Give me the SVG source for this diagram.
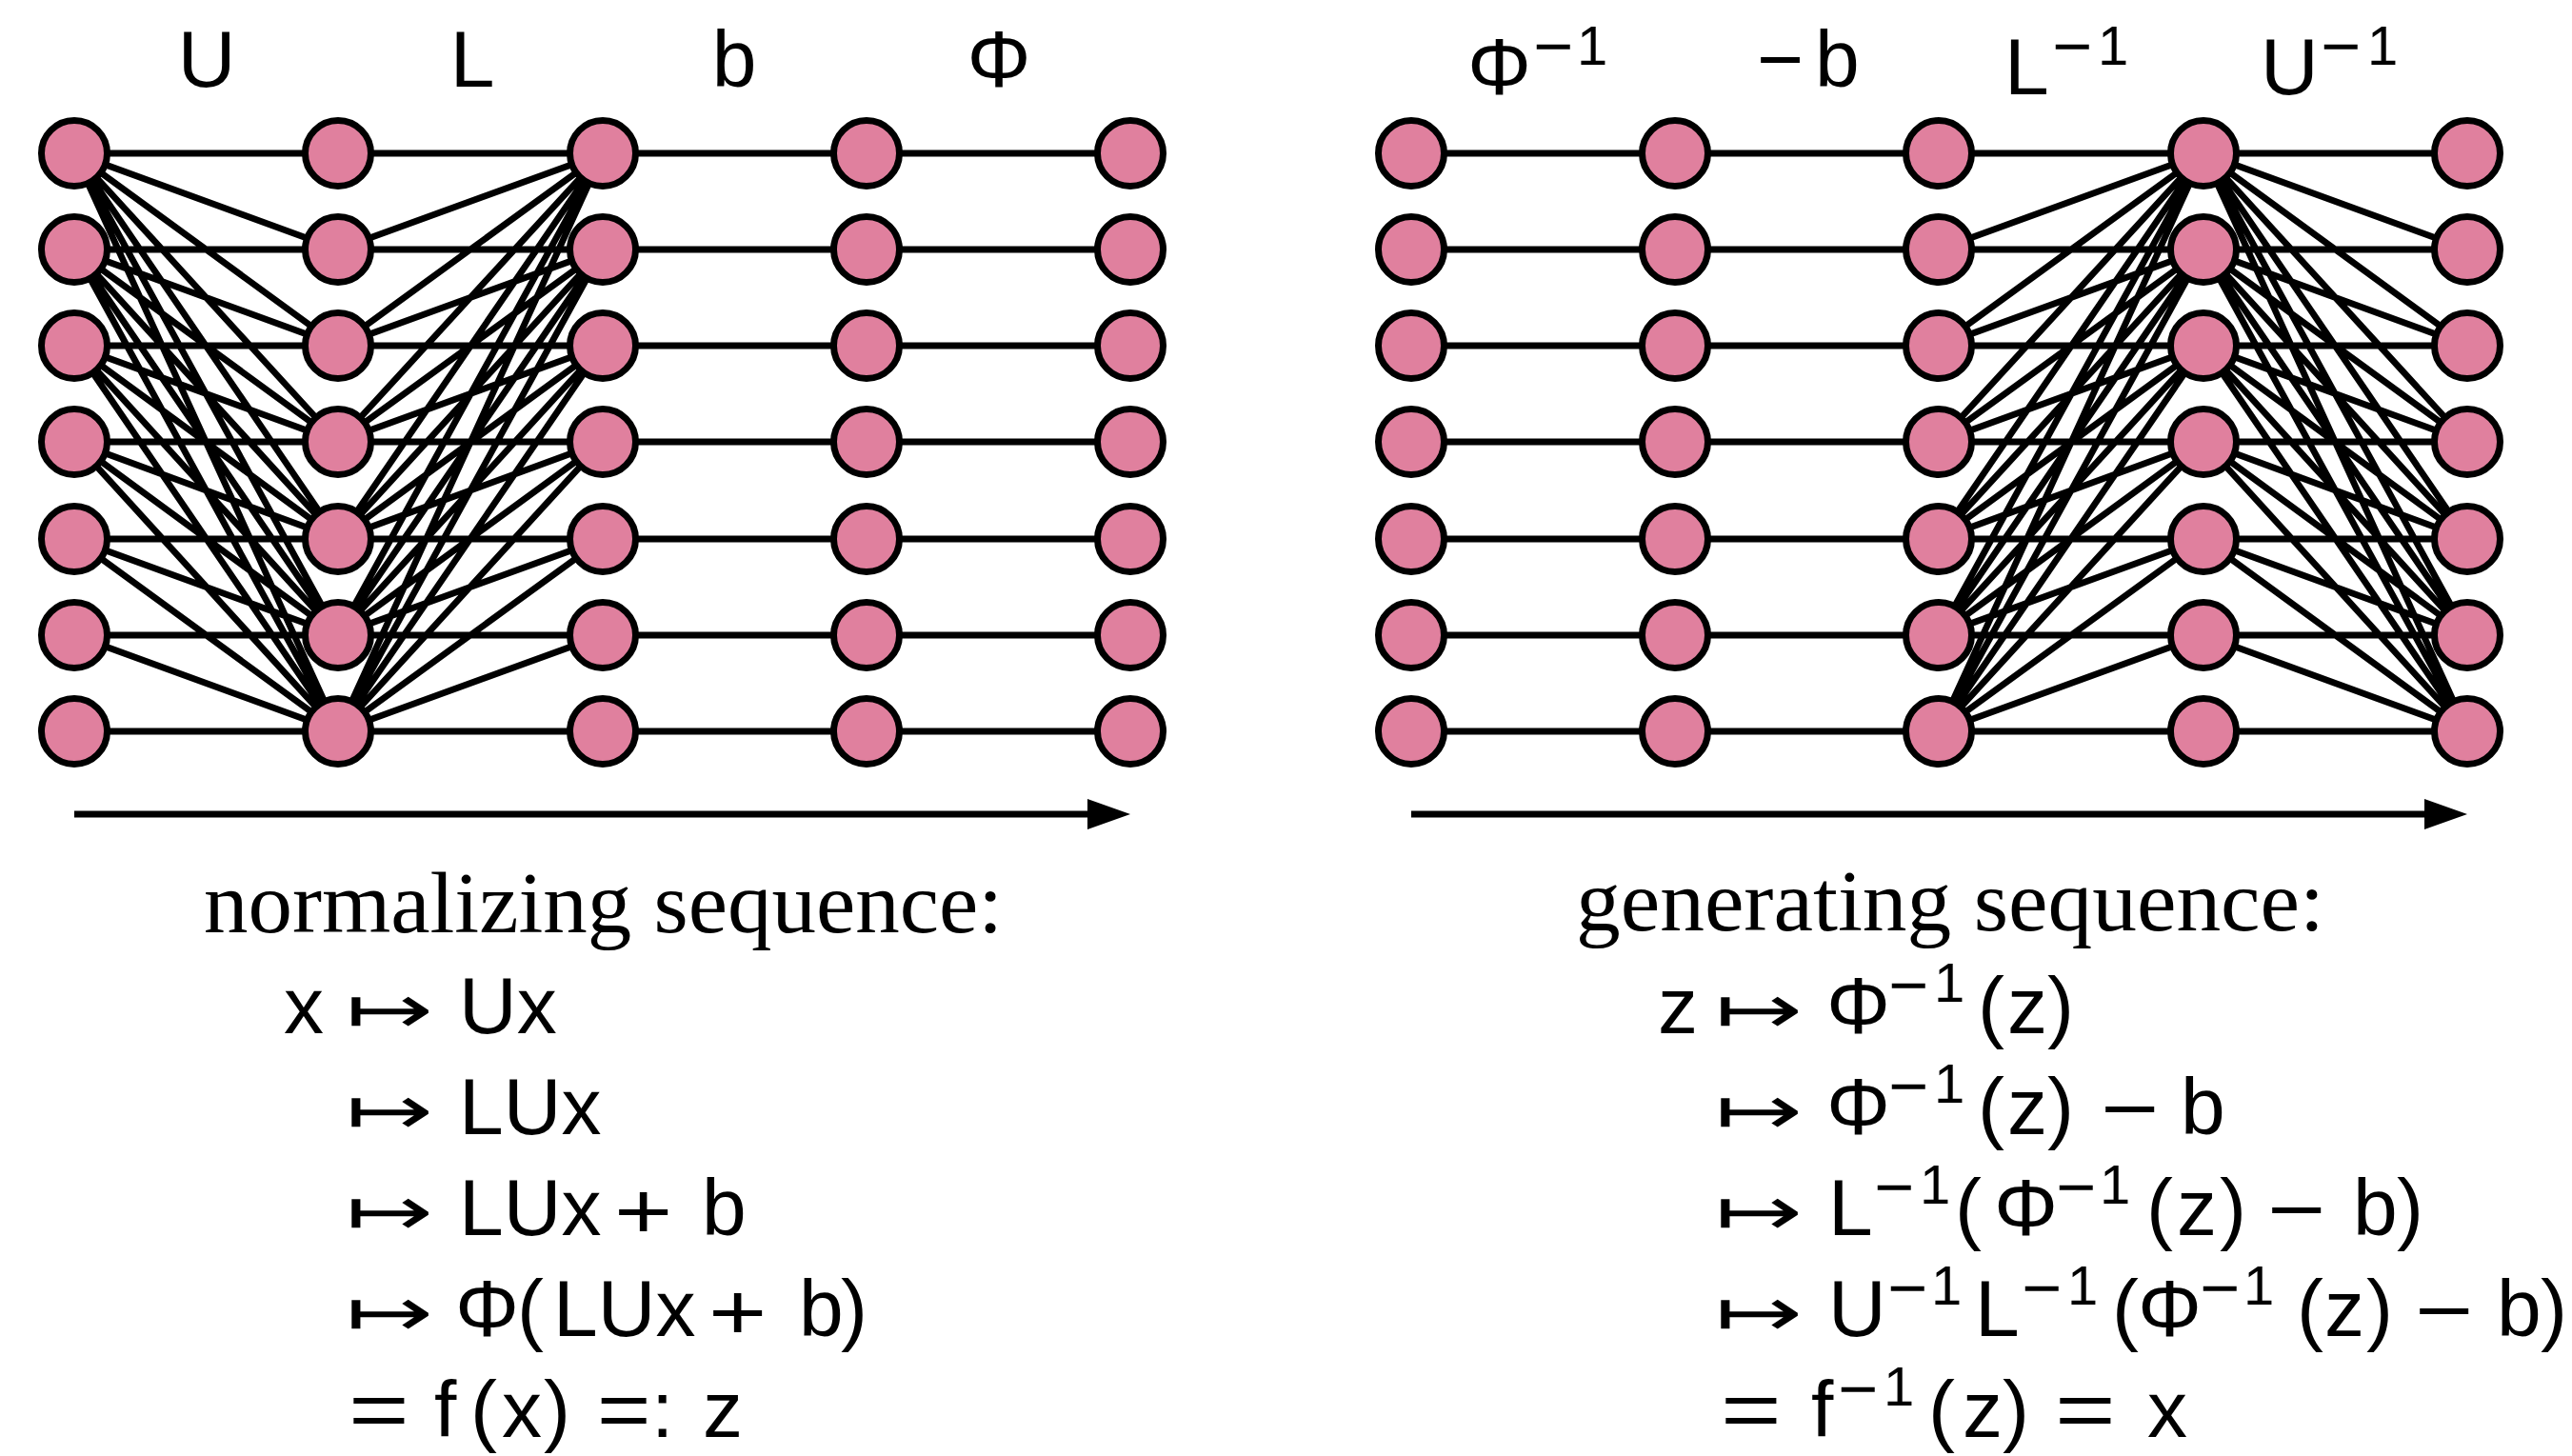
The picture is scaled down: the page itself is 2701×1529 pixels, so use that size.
<svg xmlns="http://www.w3.org/2000/svg" width="2701" height="1529" viewBox="0 0 2701 1529">
<style>
.e{fill:none;stroke:#000;stroke-width:6.8;stroke-linecap:butt}
.n{fill:#E0809E;stroke:#000;stroke-width:7}
.m{font-family:"Liberation Sans",Arial,sans-serif;font-size:84px;fill:#000}
.s{font-size:58px}
.sm{font-size:72px}
.ar{font-family:"DejaVu Sans",sans-serif;font-size:72px;fill:#000}
.h{font-family:"Liberation Serif","Times New Roman",serif;font-size:90px;fill:#000}
</style>
<defs>
<marker id="ah" markerUnits="userSpaceOnUse" markerWidth="46" markerHeight="34" refX="3" refY="16" orient="auto">
<path d="M0,0 L45,16 L0,32 Z" fill="#000"/>
</marker>
</defs>
<rect width="2701" height="1529" fill="#fff"/>
<g id="connectors">
<path class="e" d="M78 161L355 161M78 161L355 262M78 161L355 363M78 161L355 464M78 161L355 566M78 161L355 667M78 161L355 768
M78 262L355 262M78 262L355 363M78 262L355 464M78 262L355 566M78 262L355 667M78 262L355 768
M78 363L355 363M78 363L355 464M78 363L355 566M78 363L355 667M78 363L355 768
M78 464L355 464M78 464L355 566M78 464L355 667M78 464L355 768
M78 566L355 566M78 566L355 667M78 566L355 768
M78 667L355 667M78 667L355 768
M78 768L355 768"/>
<path class="e" d="M355 161L633 161
M355 262L633 161M355 262L633 262
M355 363L633 161M355 363L633 262M355 363L633 363
M355 464L633 161M355 464L633 262M355 464L633 363M355 464L633 464
M355 566L633 161M355 566L633 262M355 566L633 363M355 566L633 464M355 566L633 566
M355 667L633 161M355 667L633 262M355 667L633 363M355 667L633 464M355 667L633 566M355 667L633 667
M355 768L633 161M355 768L633 262M355 768L633 363M355 768L633 464M355 768L633 566M355 768L633 667M355 768L633 768"/>
<path class="e" d="M633 161L910 161M633 262L910 262M633 363L910 363M633 464L910 464M633 566L910 566M633 667L910 667M633 768L910 768"/>
<path class="e" d="M910 161L1187 161M910 262L1187 262M910 363L1187 363M910 464L1187 464M910 566L1187 566M910 667L1187 667M910 768L1187 768"/>
<path class="e" d="M1482 161L1759 161M1482 262L1759 262M1482 363L1759 363M1482 464L1759 464M1482 566L1759 566M1482 667L1759 667M1482 768L1759 768"/>
<path class="e" d="M1759 161L2036 161M1759 262L2036 262M1759 363L2036 363M1759 464L2036 464M1759 566L2036 566M1759 667L2036 667M1759 768L2036 768"/>
<path class="e" d="M2036 161L2314 161
M2036 262L2314 161M2036 262L2314 262
M2036 363L2314 161M2036 363L2314 262M2036 363L2314 363
M2036 464L2314 161M2036 464L2314 262M2036 464L2314 363M2036 464L2314 464
M2036 566L2314 161M2036 566L2314 262M2036 566L2314 363M2036 566L2314 464M2036 566L2314 566
M2036 667L2314 161M2036 667L2314 262M2036 667L2314 363M2036 667L2314 464M2036 667L2314 566M2036 667L2314 667
M2036 768L2314 161M2036 768L2314 262M2036 768L2314 363M2036 768L2314 464M2036 768L2314 566M2036 768L2314 667M2036 768L2314 768"/>
<path class="e" d="M2314 161L2591 161M2314 161L2591 262M2314 161L2591 363M2314 161L2591 464M2314 161L2591 566M2314 161L2591 667M2314 161L2591 768
M2314 262L2591 262M2314 262L2591 363M2314 262L2591 464M2314 262L2591 566M2314 262L2591 667M2314 262L2591 768
M2314 363L2591 363M2314 363L2591 464M2314 363L2591 566M2314 363L2591 667M2314 363L2591 768
M2314 464L2591 464M2314 464L2591 566M2314 464L2591 667M2314 464L2591 768
M2314 566L2591 566M2314 566L2591 667M2314 566L2591 768
M2314 667L2591 667M2314 667L2591 768
M2314 768L2591 768"/>
<line class="e" x1="78" y1="855" x2="1145" y2="855" marker-end="url(#ah)"/>
<line class="e" x1="1482" y1="855" x2="2549" y2="855" marker-end="url(#ah)"/>
</g>
<g id="nodes-left">
<g id="nL0"><circle class="n" cx="78" cy="161" r="34.5"/><circle class="n" cx="78" cy="262" r="34.5"/><circle class="n" cx="78" cy="363" r="34.5"/><circle class="n" cx="78" cy="464" r="34.5"/><circle class="n" cx="78" cy="566" r="34.5"/><circle class="n" cx="78" cy="667" r="34.5"/><circle class="n" cx="78" cy="768" r="34.5"/></g>
<g id="nL1"><circle class="n" cx="355" cy="161" r="34.5"/><circle class="n" cx="355" cy="262" r="34.5"/><circle class="n" cx="355" cy="363" r="34.5"/><circle class="n" cx="355" cy="464" r="34.5"/><circle class="n" cx="355" cy="566" r="34.5"/><circle class="n" cx="355" cy="667" r="34.5"/><circle class="n" cx="355" cy="768" r="34.5"/></g>
<g id="nL2"><circle class="n" cx="633" cy="161" r="34.5"/><circle class="n" cx="633" cy="262" r="34.5"/><circle class="n" cx="633" cy="363" r="34.5"/><circle class="n" cx="633" cy="464" r="34.5"/><circle class="n" cx="633" cy="566" r="34.5"/><circle class="n" cx="633" cy="667" r="34.5"/><circle class="n" cx="633" cy="768" r="34.5"/></g>
<g id="nL3"><circle class="n" cx="910" cy="161" r="34.5"/><circle class="n" cx="910" cy="262" r="34.5"/><circle class="n" cx="910" cy="363" r="34.5"/><circle class="n" cx="910" cy="464" r="34.5"/><circle class="n" cx="910" cy="566" r="34.5"/><circle class="n" cx="910" cy="667" r="34.5"/><circle class="n" cx="910" cy="768" r="34.5"/></g>
<g id="nL4"><circle class="n" cx="1187" cy="161" r="34.5"/><circle class="n" cx="1187" cy="262" r="34.5"/><circle class="n" cx="1187" cy="363" r="34.5"/><circle class="n" cx="1187" cy="464" r="34.5"/><circle class="n" cx="1187" cy="566" r="34.5"/><circle class="n" cx="1187" cy="667" r="34.5"/><circle class="n" cx="1187" cy="768" r="34.5"/></g>
</g>
<g id="nodes-right">
<g id="nR0"><circle class="n" cx="1482" cy="161" r="34.5"/><circle class="n" cx="1482" cy="262" r="34.5"/><circle class="n" cx="1482" cy="363" r="34.5"/><circle class="n" cx="1482" cy="464" r="34.5"/><circle class="n" cx="1482" cy="566" r="34.5"/><circle class="n" cx="1482" cy="667" r="34.5"/><circle class="n" cx="1482" cy="768" r="34.5"/></g>
<g id="nR1"><circle class="n" cx="1759" cy="161" r="34.5"/><circle class="n" cx="1759" cy="262" r="34.5"/><circle class="n" cx="1759" cy="363" r="34.5"/><circle class="n" cx="1759" cy="464" r="34.5"/><circle class="n" cx="1759" cy="566" r="34.5"/><circle class="n" cx="1759" cy="667" r="34.5"/><circle class="n" cx="1759" cy="768" r="34.5"/></g>
<g id="nR2"><circle class="n" cx="2036" cy="161" r="34.5"/><circle class="n" cx="2036" cy="262" r="34.5"/><circle class="n" cx="2036" cy="363" r="34.5"/><circle class="n" cx="2036" cy="464" r="34.5"/><circle class="n" cx="2036" cy="566" r="34.5"/><circle class="n" cx="2036" cy="667" r="34.5"/><circle class="n" cx="2036" cy="768" r="34.5"/></g>
<g id="nR3"><circle class="n" cx="2314" cy="161" r="34.5"/><circle class="n" cx="2314" cy="262" r="34.5"/><circle class="n" cx="2314" cy="363" r="34.5"/><circle class="n" cx="2314" cy="464" r="34.5"/><circle class="n" cx="2314" cy="566" r="34.5"/><circle class="n" cx="2314" cy="667" r="34.5"/><circle class="n" cx="2314" cy="768" r="34.5"/></g>
<g id="nR4"><circle class="n" cx="2591" cy="161" r="34.5"/><circle class="n" cx="2591" cy="262" r="34.5"/><circle class="n" cx="2591" cy="363" r="34.5"/><circle class="n" cx="2591" cy="464" r="34.5"/><circle class="n" cx="2591" cy="566" r="34.5"/><circle class="n" cx="2591" cy="667" r="34.5"/><circle class="n" cx="2591" cy="768" r="34.5"/></g>
</g>
<g id="layer-labels">
<text class="m" x="217" y="91" text-anchor="middle">U</text>
<text class="m" x="496" y="91" text-anchor="middle">L</text>
<text class="m" x="771" y="91" text-anchor="middle">b</text>
<text class="m" x="1049" y="91" text-anchor="middle">Φ</text>
<text class="m" y="99"><tspan x="1541">Φ</tspan><tspan class="sm" x="1610" y="73">−</tspan><tspan class="s" x="1656" y="68">1</tspan></text>
<text class="m" y="91"><tspan x="1845">−</tspan><tspan x="1906">b</tspan></text>
<text class="m" y="99"><tspan x="2105">L</tspan><tspan class="sm" x="2155" y="73">−</tspan><tspan class="s" x="2203" y="68">1</tspan></text>
<text class="m" y="99"><tspan x="2374">U</tspan><tspan class="sm" x="2437" y="73">−</tspan><tspan class="s" x="2486" y="68">1</tspan></text>
</g>
<g id="normalizing">
<text class="h" x="214" y="979" textLength="839" lengthAdjust="spacingAndGlyphs">normalizing sequence:</text>
<text class="m" y="1085"><tspan x="298">x</tspan><tspan x="482">Ux</tspan></text>
<text class="ar" transform="translate(363,1085) scale(1.53,1)">↦</text>
<text class="m" y="1191"><tspan x="482">LUx</tspan></text>
<text class="ar" transform="translate(363,1191) scale(1.53,1)">↦</text>
<text class="m" y="1297"><tspan x="482">LUx</tspan><tspan x="737">b</tspan></text>
<text class="m" transform="translate(645,1300) scale(1.25,1)">+</text>
<text class="ar" transform="translate(363,1297) scale(1.53,1)">↦</text>
<text class="m" y="1403"><tspan x="478">Φ</tspan><tspan x="543">(</tspan><tspan x="581">LUx</tspan><tspan x="839">b</tspan><tspan x="883">)</tspan></text>
<text class="m" transform="translate(744,1406) scale(1.25,1)">+</text>
<text class="ar" transform="translate(363,1403) scale(1.53,1)">↦</text>
<text class="m" y="1509"><tspan x="456">f</tspan><tspan x="494">(</tspan><tspan x="527">x</tspan><tspan x="571">)</tspan><tspan x="684">:</tspan><tspan x="738">z</tspan></text>
<text class="m" transform="translate(366,1509) scale(1.3,1)">=</text>
<text class="m" transform="translate(627,1509) scale(1.15,1)">=</text>
</g>
<g id="generating">
<text class="h" x="1655" y="977" textLength="786" lengthAdjust="spacingAndGlyphs">generating sequence:</text>
<text class="m" y="1085"><tspan x="1741">z</tspan><tspan x="1918">Φ</tspan><tspan class="sm" x="1983" y="1059">−</tspan><tspan class="s" x="2031" y="1052">1</tspan><tspan x="2077" y="1085">(</tspan><tspan x="2108">z</tspan><tspan x="2150">)</tspan></text>
<text class="ar" transform="translate(1801,1085) scale(1.53,1)">↦</text>
<text class="m" y="1191"><tspan x="1918">Φ</tspan><tspan class="sm" x="1983" y="1165">−</tspan><tspan class="s" x="2031" y="1158">1</tspan><tspan x="2077" y="1191">(</tspan><tspan x="2108">z</tspan><tspan x="2150">)</tspan><tspan x="2290">b</tspan></text>
<text class="m" transform="translate(2206,1193) scale(1.25,1)">−</text>
<text class="ar" transform="translate(1801,1191) scale(1.53,1)">↦</text>
<text class="m" y="1297"><tspan x="1920">L</tspan><tspan class="sm" x="1968" y="1271">−</tspan><tspan class="s" x="2016" y="1264">1</tspan><tspan x="2053" y="1297">(</tspan><tspan x="2094">Φ</tspan><tspan class="sm" x="2159" y="1271">−</tspan><tspan class="s" x="2205" y="1264">1</tspan><tspan x="2254" y="1297">(</tspan><tspan x="2286">z</tspan><tspan x="2331">)</tspan><tspan x="2471">b</tspan><tspan x="2517">)</tspan></text>
<text class="m" transform="translate(2381,1299) scale(1.25,1)">−</text>
<text class="ar" transform="translate(1801,1297) scale(1.53,1)">↦</text>
<text class="m" y="1403"><tspan x="1920">U</tspan><tspan class="sm" x="1982" y="1377">−</tspan><tspan class="s" x="2028" y="1370">1</tspan><tspan x="2074" y="1403">L</tspan><tspan class="sm" x="2123" y="1377">−</tspan><tspan class="s" x="2171" y="1370">1</tspan><tspan x="2218" y="1403">(</tspan><tspan x="2245">Φ</tspan><tspan class="sm" x="2310" y="1377">−</tspan><tspan class="s" x="2356" y="1370">1</tspan><tspan x="2412" y="1403">(</tspan><tspan x="2441">z</tspan><tspan x="2485">)</tspan><tspan x="2622">b</tspan><tspan x="2668">)</tspan></text>
<text class="m" transform="translate(2536,1405) scale(1.25,1)">−</text>
<text class="ar" transform="translate(1801,1403) scale(1.53,1)">↦</text>
<text class="m" y="1509"><tspan x="1902">f</tspan><tspan class="sm" x="1930" y="1483">−</tspan><tspan class="s" x="1978" y="1476">1</tspan><tspan x="2025" y="1509">(</tspan><tspan x="2061">z</tspan><tspan x="2103">)</tspan><tspan x="2255">x</tspan></text>
<text class="m" transform="translate(1807,1509) scale(1.3,1)">=</text>
<text class="m" transform="translate(2158,1509) scale(1.3,1)">=</text>
</g>
</svg>
